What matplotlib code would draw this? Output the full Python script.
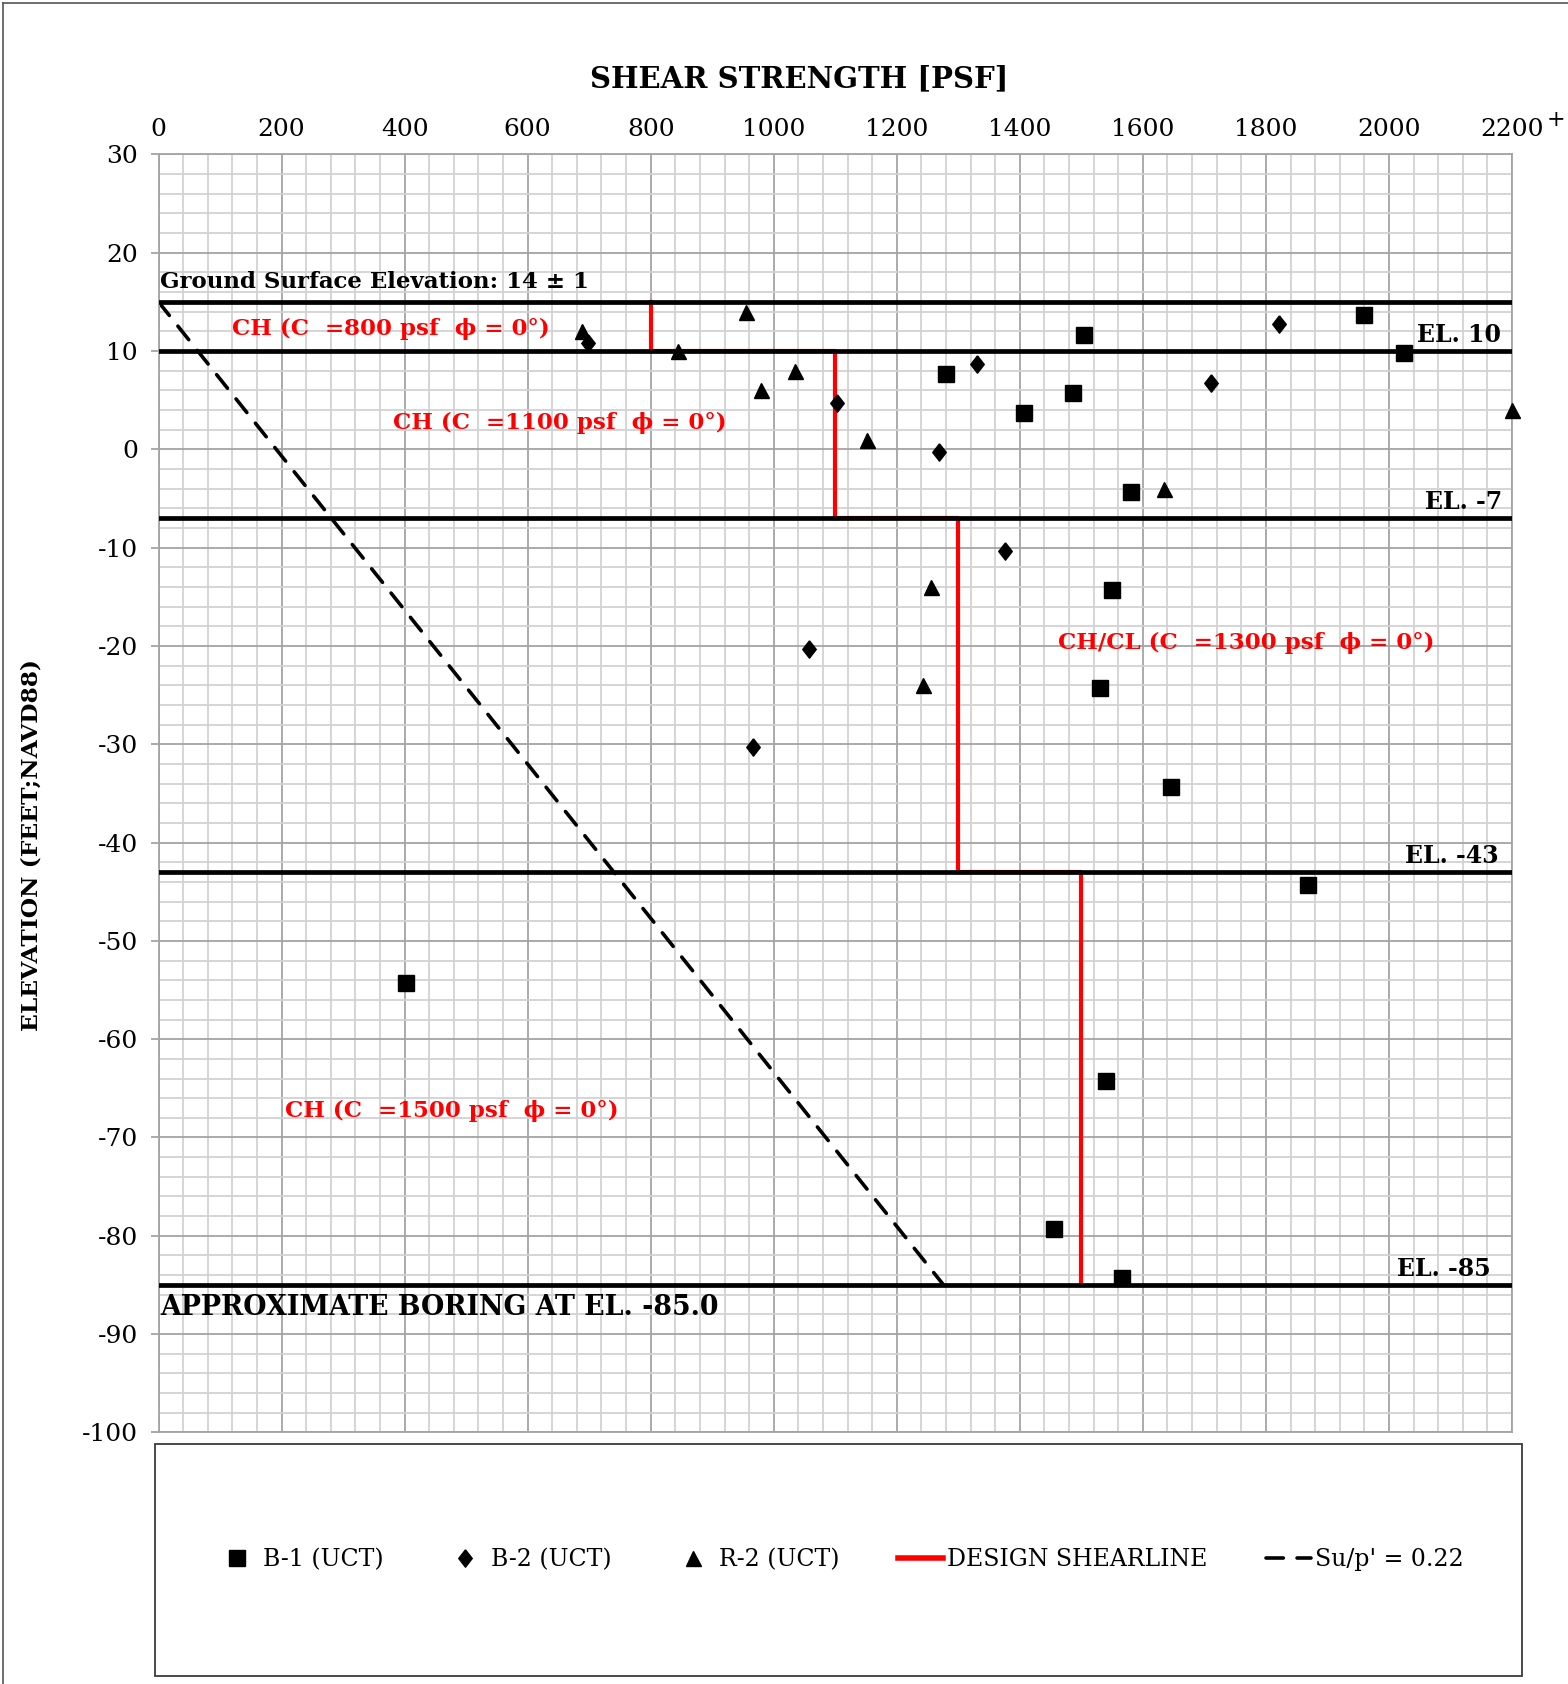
import matplotlib.pyplot as plt
from matplotlib.patches import Rectangle
from matplotlib.ticker import MultipleLocator
from matplotlib.lines import Line2D

plt.rcParams['font.family'] = 'DejaVu Serif'
plt.rcParams['axes.unicode_minus'] = False

# UCT results: shear strength (psf) vs elevation (ft)
b1_su = [1959, 2025, 1505, 1280, 1407, 1486, 1580, 1550, 1530, 1646, 1868, 403, 1540, 1456, 1566]
b1_el = [13.7, 9.8, 11.6, 7.7, 3.7, 5.7, -4.3, -14.3, -24.3, -34.3, -44.3, -54.3, -64.3, -79.3, -84.3]

b2_su = [698, 1821, 1330, 1711, 1103, 1269, 1376, 1058, 966]
b2_el = [10.8, 12.7, 8.7, 6.7, 4.7, -0.3, -10.3, -20.3, -30.3]

r2_su = [688, 955, 845, 979, 1035, 1152, 2200, 1634, 1255, 1243]
r2_el = [12.0, 14.0, 10.0, 6.0, 8.0, 1.0, 4.0, -4.0, -14.0, -24.0]

# design shear strength profile (step line)
design_su = [800, 800, 1100, 1100, 1300, 1300, 1500, 1500]
design_el = [15, 10, 10, -7, -7, -43, -43, -85]

# Su/p' = 0.22 trend
trend_su = [0, 1276]
trend_el = [15, -85]

# stratum boundaries
layer_el = [15, 10, -7, -43, -85]
layer_tags = ['EL. 10', 'EL. -7', 'EL. -43', 'EL. -85']
layer_tag_el = [11.6, -5.4, -41.4, -83.4]
layer_tag_su = [2182, 2184, 2179, 2165]

strata_text = ['CH (C  =800 psf  \u03d5 = 0\u00b0)',
               'CH (C  =1100 psf  \u03d5 = 0\u00b0)',
               'CH/CL (C  =1300 psf  \u03d5 = 0\u00b0)',
               'CH (C  =1500 psf  \u03d5 = 0\u00b0)']
strata_su = [119, 381, 1462, 205]
strata_el = [12.2, 2.7, -19.7, -67.3]

# taller-than-wide diamond like the spreadsheet marker
diamond = [(0, 1), (0.78, 0), (0, -1), (-0.78, 0), (0, 1)]
dash = (0, (4.8, 3.8))

fig = plt.figure(figsize=(15.68, 16.84), dpi=100)
ax = fig.add_axes([0.1011, 0.1494, 0.8632, 0.7589])

ax.set_xlim(0, 2200)
ax.set_ylim(-100, 30)
ax.xaxis.set_major_locator(MultipleLocator(200))
ax.xaxis.set_minor_locator(MultipleLocator(40))
ax.yaxis.set_major_locator(MultipleLocator(10))
ax.yaxis.set_minor_locator(MultipleLocator(2))
ax.grid(which='minor', color='#d2d2d2', lw=1.3, zorder=0)
ax.grid(which='major', color='#a4a4a4', lw=1.3, zorder=0)
ax.set_axisbelow(True)
for s in ax.spines.values():
    s.set_color('#a4a4a4')
    s.set_linewidth(1.3)

ax.xaxis.tick_top()
ax.tick_params(axis='x', which='both', length=0, pad=10, labelsize=18)
ax.tick_params(axis='y', which='major', length=5.8, width=1.3, color='#a4a4a4', pad=9, labelsize=18)
ax.tick_params(axis='y', which='minor', length=0)
ax.annotate('+', xy=(2200, 30), xytext=(31.5, 24.5), textcoords='offset points',
            ha='center', va='center', fontsize=16, annotation_clip=False)

for el in layer_el:
    ax.axhline(el, color='black', lw=3.4, zorder=3)

ax.plot(design_su, design_el, color='#ff0000', lw=3.0, zorder=2, label='DESIGN SHEARLINE')
ax.plot(trend_su, trend_el, color='black', lw=2.6, ls=dash, dash_capstyle='round',
        zorder=2, label="Su/p' = 0.22")

h1, = ax.plot(b1_su, b1_el, 's', color='black', ms=11, ls='none', zorder=4, clip_on=False, label='B-1 (UCT)')
h2, = ax.plot(b2_su, b2_el, marker=diamond, color='black', ms=12.5, ls='none', zorder=4, clip_on=False,
              label='B-2 (UCT)')
h3, = ax.plot(r2_su, r2_el, '^', color='black', ms=10.8, ls='none', zorder=4, clip_on=False, label='R-2 (UCT)')

bold = dict(fontweight='bold', fontsize=16.5)
ax.text(3, 17.0, 'Ground Surface Elevation: 14 \u00b1 1', ha='left', va='center', zorder=5, **bold)
ax.text(3, -87.3, 'APPROXIMATE BORING AT EL. -85.0', ha='left', va='center', zorder=5,
        fontweight='bold', fontsize=19.3)
for tag, x, y in zip(layer_tags, layer_tag_su, layer_tag_el):
    ax.text(x, y, tag, ha='right', va='center', zorder=5, fontweight='bold', fontsize=17)
for txt, x, y in zip(strata_text, strata_su, strata_el):
    ax.text(x, y, txt, ha='left', va='center', color='#ff0000', zorder=5, **bold)

fig.text(0.510, 0.9534, 'SHEAR STRENGTH [PSF]', ha='center', va='center', fontsize=21, fontweight='bold')
fig.text(0.0204, 0.498, 'ELEVATION (FEET;NAVD88)', ha='center', va='center', rotation=90,
         fontsize=16.8, fontweight='bold')

# legend panel
fig.patches.append(Rectangle((0.0989, 0.00475), 0.8718, 0.1378, transform=fig.transFigure,
                             fill=False, edgecolor='#3a3a3a', lw=1.3))
handles = [h1, h2, h3,
           Line2D([], [], color='#ff0000', lw=4),
           Line2D([], [], color='black', lw=2.6, ls=dash, dash_capstyle='round')]
labels = ['B-1 (UCT)', 'B-2 (UCT)', 'R-2 (UCT)', 'DESIGN SHEARLINE', "Su/p' = 0.22"]
fig.legend(handles, labels, loc='center', bbox_to_anchor=(0.535, 0.0739), ncol=5, frameon=False,
           fontsize=17, handlelength=1.9, handletextpad=0.15, columnspacing=2.5)

# outer chart border
fig.add_artist(Line2D([0.0017, 1.0], [0.9984, 0.9984], transform=fig.transFigure, color='#555555', lw=1.2))
fig.add_artist(Line2D([0.0017, 0.0017], [0.0, 0.9984], transform=fig.transFigure, color='#555555', lw=1.2))

fig.savefig('out.png', dpi=100)
